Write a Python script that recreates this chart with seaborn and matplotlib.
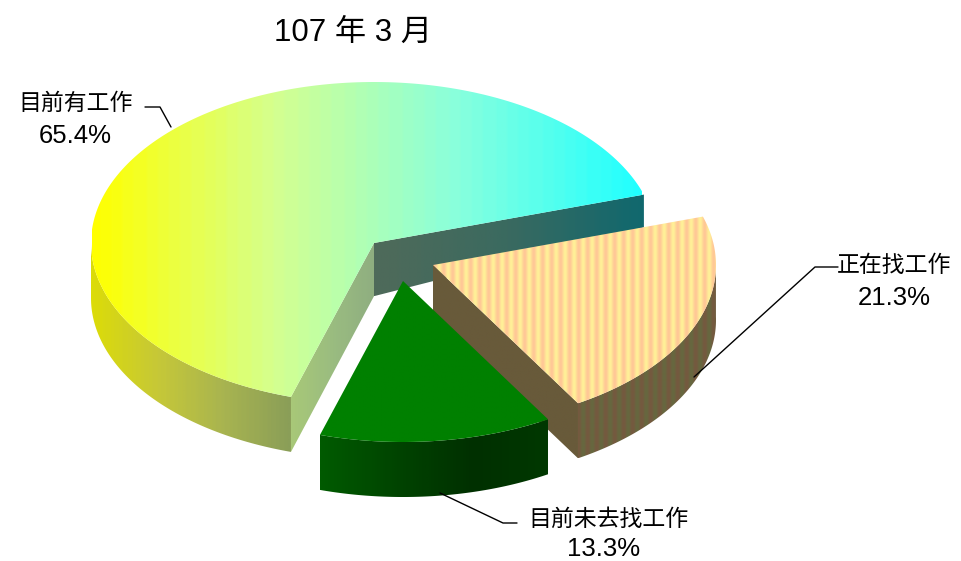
import numpy as np
import matplotlib
matplotlib.use("Agg")
import matplotlib.pyplot as plt
from matplotlib.patches import Polygon
import seaborn as sns

# data
title = "107 年 3 月"
categories = ["目前有工作", "目前未去找工作", "正在找工作"]
values = [65.4, 13.3, 21.3]

# layout (pixel space of the figure)
W, H = 962, 561
RX, RY = 283, 161
START_ANGLE = 17.5
centers = [(374, 243), (403, 281), (433, 265)]
label_pos = [(76, 103, 75, 136), (608, 519, 604, 549), (894, 265, 894, 298)]
leaders = [
    ([145, 160, 171], [107, 107, 127]),
    ([440, 503, 517], [493, 523, 523]),
    ([838, 815, 694], [267, 267, 377]),
]

FONT = ["Liberation Sans", "Noto Sans CJK TC", "DejaVu Sans"]
sns.set_theme(style="white")
plt.rcParams["font.family"] = FONT

fig = plt.figure(figsize=(W / 100, H / 100), dpi=100)
ax = fig.add_axes([0, 0, 1, 1])
ax.set_xlim(0, W)
ax.set_ylim(H, 0)
ax.set_autoscale_on(False)


def depth(y):
    return np.minimum(55, 33 + 0.42 * (np.asarray(y, float) - 195))


def arc(c, a0, a1, n=240):
    t = np.radians(np.linspace(a0, a1, n))
    return c[0] + RX * np.cos(t), c[1] - RY * np.sin(t)


def paint(xs, ys, rgb_row, x0, x1, z):
    poly = Polygon(np.column_stack([xs, ys]), closed=True, transform=ax.transData)
    arr = np.asarray(rgb_row, float)[None, :, :]
    y0, y1 = float(np.min(ys)), float(np.max(ys))
    im = ax.imshow(arr, extent=(x0, x1, y1, y0), aspect="auto",
                   interpolation="bilinear", zorder=z)
    im.set_clip_path(poly)
    return im


def ramp(stops, n):
    pal = np.array(sns.blend_palette(stops, n_colors=len(stops) * 12))
    idx = np.linspace(0, len(pal) - 1, n).round().astype(int)
    return pal[idx]


def stripes(c1, c2, x0, x1, period):
    x = np.arange(x0, x1)
    m = (0.5 + 0.5 * np.sin(2 * np.pi * x / period))[:, None]
    c1, c2 = np.array(matplotlib.colors.to_rgb(c1)), np.array(matplotlib.colors.to_rgb(c2))
    return c1 * m + c2 * (1 - m)


def solid(c):
    return [matplotlib.colors.to_rgb(c)] * 2


def wall(x_a, y_a):
    """Extrude a polyline downward, returns a closed outline."""
    x_a, y_a = np.asarray(x_a, float), np.asarray(y_a, float)
    return (np.r_[x_a, x_a[::-1]], np.r_[y_a, (y_a + depth(y_a))[::-1]])


# wedge angles from the values
spans = np.array(values) / sum(values) * 360
a0 = START_ANGLE
angles = []
for s in spans:
    angles.append((a0, a0 + s))
    a0 += s

# main wedge -----------------------------------------------------------
c = centers[0]
s0, s1 = angles[0]
ax_, ay_ = arc(c, s0, s1)
# outer wall
ox, oy = arc(c, 180, s1)
xs, ys = wall(ox, oy)
paint(xs, ys, ramp(["#dcdc08", "#c6c838", "#a8b450", "#8a9e58"], 120), ox.min(), ox.max(), 1)
# cut face to the front
fx, fy = [c[0], ax_[-1]], [c[1], ay_[-1]]
xs, ys = wall(fx, fy)
paint(xs, ys, ramp(["#a8c878", "#9abc80", "#8fae80"], 40), ax_[-1], c[0], 2)
# cut face to the back
bx, by = [c[0], ax_[0]], [c[1], ay_[0]]
xs, ys = wall(bx, by)
paint(xs, ys, ramp(["#4f6a5a", "#3a6a60", "#10686e"], 60), c[0], ax_[0], 2)
# top
xs, ys = np.r_[c[0], ax_], np.r_[c[1], ay_]
paint(xs, ys, ramp(["#ffff00", "#d4ff90", "#88ffdd", "#20ffff"], 200), 92, 642, 3)

# orange wedge ---------------------------------------------------------
c = centers[2]
s0, s1 = angles[2]
ax_, ay_ = arc(c, s0, s1)
mask = np.radians(np.linspace(s0, s1, len(ax_)))
mask = (np.sin(mask) < 0.02)
xs, ys = wall(ax_[mask], ay_[mask])
paint(xs, ys, stripes("#75593f", "#66683f", 560, 730, 9), 560, 730, 4)
fx, fy = [c[0], ax_[0]], [c[1], ay_[0]]
xs, ys = wall(fx, fy)
paint(xs, ys, solid("#685a3a"), c[0], ax_[0], 5)
xs, ys = np.r_[c[0], ax_], np.r_[c[1], ay_]
paint(xs, ys, stripes("#ffc896", "#fff098", 425, 725, 9), 425, 725, 6)

# green wedge ----------------------------------------------------------
c = centers[1]
s0, s1 = angles[1]
ax_, ay_ = arc(c, s0, s1)
xs, ys = wall(ax_, ay_)
paint(xs, ys, ramp(["#005a00", "#004400", "#003000", "#003800"], 60), ax_.min(), ax_.max(), 7)
xs, ys = np.r_[c[0], ax_], np.r_[c[1], ay_]
paint(xs, ys, solid("#008000"), ax_.min(), ax_.max(), 8)

# leaders and text -----------------------------------------------------
for (lx, ly) in leaders:
    sns.lineplot(x=lx, y=ly, sort=False, estimator=None, color="black",
                 linewidth=1.0, ax=ax, zorder=9)

for name, v, (nx, ny, px, py) in zip(categories, values, label_pos):
    ax.text(nx, ny, name, ha="center", va="center", fontsize=16.5, color="black", family=FONT)
    ax.text(px, py, f"{v}%", ha="center", va="center", fontsize=18.5, color="black", family=FONT)

ax.text(353, 33, title, ha="center", va="center", fontsize=22.5, color="black", family=FONT)

ax.set_xlim(0, W)
ax.set_ylim(H, 0)
ax.axis("off")
fig.savefig("out.png", dpi=100)
